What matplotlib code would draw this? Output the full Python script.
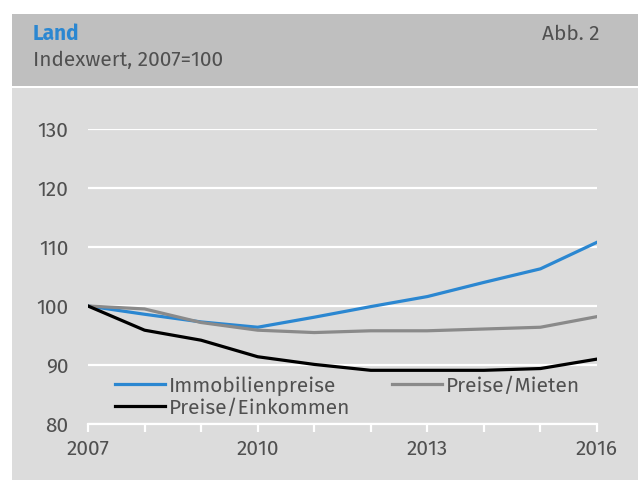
import matplotlib
matplotlib.use("Agg")
import matplotlib.pyplot as plt
from matplotlib.patches import Rectangle

# data
years = [2007, 2008, 2009, 2010, 2011, 2012, 2013, 2014, 2015, 2016]
immobilienpreise = [100, 98.6, 97.3, 96.4, 98.1, 99.9, 101.6, 104.0, 106.3, 110.8]
preise_mieten = [100, 99.5, 97.2, 95.9, 95.5, 95.8, 95.8, 96.1, 96.4, 98.2]
preise_einkommen = [100, 95.9, 94.2, 91.4, 90.1, 89.1, 89.1, 89.1, 89.4, 91.0]
x_ticks = [2007, 2010, 2013, 2016]
y_ticks = [80, 90, 100, 110, 120, 130]

plt.rcParams["font.family"] = ["Fira Sans", "DejaVu Sans"]

blue = "#2B87D1"
txt = "#505050"
fsz = 15

fig = plt.figure(figsize=(6.38, 4.8), dpi=100)
W, H = 638, 480

# header and body panels
fig.patches.append(Rectangle((12 / W, 1 - 86 / H), 1, 72 / H, transform=fig.transFigure,
                             facecolor="#BFBFBF", edgecolor="none", zorder=-5))
fig.patches.append(Rectangle((12 / W, 0), 1, 1 - 88 / H, transform=fig.transFigure,
                             facecolor="#DCDCDC", edgecolor="none", zorder=-5))

fig.text(33 / W, 1 - 34 / H, "Land", color=blue, fontsize=fsz, fontweight="bold", va="center")
fig.text(600 / W, 1 - 34 / H, "Abb. 2", color=txt, fontsize=fsz, va="center", ha="right")
fig.text(33 / W, 1 - 60 / H, "Indexwert, 2007=100", color=txt, fontsize=fsz, va="center")

ax = fig.add_axes([88 / W, 1 - 424 / H, (597 - 88) / W, (424 - 129) / H])
ax.set_facecolor("none")

l1, = ax.plot(years, immobilienpreise, color=blue, lw=2.3, label="Immobilienpreise", zorder=3)
l2, = ax.plot(years, preise_mieten, color="#8A8A8A", lw=2.3, label="Preise/Mieten", zorder=3)
l3, = ax.plot(years, preise_einkommen, color="black", lw=2.3, label="Preise/Einkommen", zorder=3)

ax.set_xlim(2007, 2016)
ax.set_ylim(80, 130)
ax.set_xticks(x_ticks)
ax.set_xticks(years, minor=True)
ax.set_yticks(y_ticks)
ax.grid(axis="y", color="white", lw=1.6)
ax.set_axisbelow(True)
for s in ["top", "right", "left"]:
    ax.spines[s].set_visible(False)
ax.spines["bottom"].set_color("white")
ax.spines["bottom"].set_linewidth(1.6)
ax.tick_params(axis="x", which="both", direction="out", color="white", length=6, width=1.6,
               labelsize=fsz, labelcolor=txt, pad=5)
ax.tick_params(axis="y", length=0, labelsize=fsz, labelcolor=txt, pad=14)

leg = ax.legend([l1, l3, l2], ["Immobilienpreise", "Preise/Einkommen", "Preise/Mieten"],
                ncol=2, frameon=False, loc="upper left",
                bbox_to_anchor=(115 / W, 1 - 376 / H), bbox_transform=fig.transFigure,
                fontsize=fsz, handlelength=2.4, handletextpad=0.2, columnspacing=2.0,
                labelspacing=0.12, borderaxespad=0, borderpad=0)
for t in leg.get_texts():
    t.set_color(txt)

fig.savefig("out.png", dpi=100)
